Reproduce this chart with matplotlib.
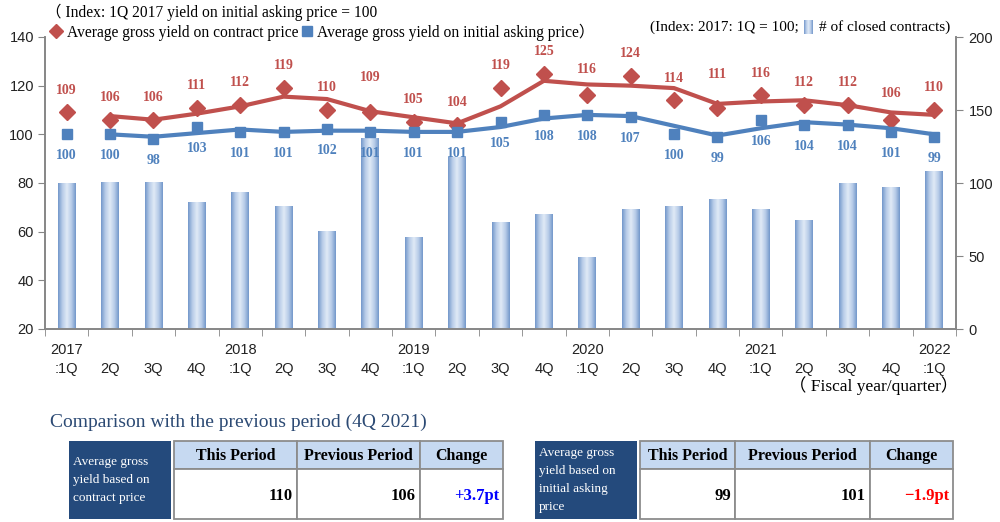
#!/usr/bin/env python3.12
"""Yield index (contract vs. initial asking price) with closed-contract bars."""

import matplotlib.pyplot as plt
import numpy as np
import pandas as pd
from matplotlib.colors import LinearSegmentedColormap
from matplotlib.lines import Line2D
from matplotlib.patches import Rectangle

YEARS = ["2017", "", "", "", "2018", "", "", "", "2019", "", "", "",
         "2020", "", "", "", "2021", "", "", "", "2022"]
QUARTERS = [":1Q", "2Q", "3Q", "4Q"] * 5 + [":1Q"]
CONTRACT = [109, 106, 106, 111, 112, 119, 110, 109, 105, 104, 119,
            125, 116, 124, 114, 111, 116, 112, 112, 106, 110]
ASKING = [100, 100, 98, 103, 101, 101, 102, 101, 101, 101, 105,
          108, 108, 107, 100, 99, 106, 104, 104, 101, 99]
CLOSED = [100, 101, 101, 87, 94, 84, 67, 131, 63, 118, 73,
          79, 49, 82, 84, 89, 82, 75, 100, 97, 108]
CHANGE = ["+3.7pt", "\u22121.9pt"]

W, H = 1000, 522
RED = "#c0504d"
BLUE = "#4f81bd"
SPINE = "#868686"
SERIF = ["Liberation Serif", "Noto Sans CJK JP"]
SANS = "Liberation Sans"

# extra upward nudge (px) for a few red labels that sit higher in the original
RED_NUDGE = {7: 13, 12: 4, 15: 11, 19: 4}


def fx(x):
    return x / W


def fy(y):
    return 1 - y / H


bar_cmap = LinearSegmentedColormap.from_list(
    "bar", ["#dfe9f6", "#b8cce8", "#7498cb"])
grad = np.abs(np.linspace(-1, 1, 64)).reshape(1, -1)

fig = plt.figure(figsize=(W / 100, H / 100), dpi=100)
ax = fig.add_axes([fx(45), fy(329), fx(956) - fx(45), fy(37) - fy(329)])
ax2 = ax.twinx()
ax.set_zorder(ax2.get_zorder() + 1)
ax.patch.set_visible(False)

x = np.arange(len(CONTRACT))

# bars with horizontal gradient
bars = ax2.bar(x, CLOSED, width=0.41, facecolor="none", edgecolor="none")
for rect in bars:
    x0 = rect.get_x()
    im = ax2.imshow(grad, extent=[x0, x0 + rect.get_width(), 0, rect.get_height()],
                    aspect="auto", cmap=bar_cmap, zorder=2)
    im.set_clip_path(rect)
ax2.set_ylim(0, 200)
ax2.set_yticks([0, 50, 100, 150, 200])

# moving-average trendlines + markers
c_ma = pd.Series(CONTRACT).rolling(2).mean()
a_ma = pd.Series(ASKING).rolling(2).mean()
ax.plot(x, c_ma, color=RED, lw=3, zorder=3)
ax.plot(x, a_ma, color=BLUE, lw=3, zorder=3)
ax.plot(x, CONTRACT, ls="none", marker="D", ms=8.5, color=RED, zorder=4)
ax.plot(x, ASKING, ls="none", marker="s", ms=7, color=BLUE, zorder=4)

for i, (c, a) in enumerate(zip(CONTRACT, ASKING)):
    ax.annotate(str(c), (i, c), xytext=(0, 16 + RED_NUDGE.get(i, 0) * 0.72),
                textcoords="offset points", ha="center", va="center",
                color=RED, fontsize=10, fontweight="bold", family=SERIF)
    ax.annotate(str(a), (i, a), xytext=(0, -15.5), textcoords="offset points",
                ha="center", va="center", color=BLUE, fontsize=10,
                fontweight="bold", family=SERIF)

ax.set_xlim(-0.5, len(x) - 0.5)
ax.set_ylim(20, 140)
ax.set_yticks(range(20, 141, 20))
ax.set_xticks(x, [f"{y}\n{q}" for y, q in zip(YEARS, QUARTERS)])
ax.set_xticks(np.arange(-0.5, len(x), 1), minor=True)
ax.tick_params(axis="x", which="major", length=0, pad=10)
ax.tick_params(axis="x", which="minor", length=5, color=SPINE)
ax.tick_params(axis="y", length=5, color=SPINE, pad=3)
ax2.tick_params(axis="y", length=5, color=SPINE, pad=4)
for a_ in (ax, ax2):
    for lab in a_.get_xticklabels() + a_.get_yticklabels():
        lab.set_fontfamily(SANS)
        lab.set_fontsize(10.5)
        lab.set_color("#222222")
        lab.set_linespacing(1.45)
    for name, sp in a_.spines.items():
        sp.set_color(SPINE)
        sp.set_linewidth(1.2)
        sp.set_visible(name != "top")

# headings and legend
fig.text(fx(46), fy(12), "\uff08 Index: 1Q 2017 yield on initial asking price = 100",
         family=SERIF, fontsize=11.2, va="center", ha="left")
handles = [
    Line2D([], [], ls="none", marker="D", ms=7, color=RED,
           label="Average gross yield on contract price"),
    Line2D([], [], ls="none", marker="s", ms=6.5, color=BLUE,
           label="Average gross yield on initial asking price\uff09"),
]
fig.legend(handles=handles, loc="center left", bbox_to_anchor=(fx(51), fy(32)),
           ncol=2, frameon=False, handlelength=0.7, handletextpad=0.3,
           columnspacing=0.2, borderpad=0, borderaxespad=0,
           prop={"family": SERIF, "size": 11.2})

fig.text(fx(799), fy(27), "(Index: 2017: 1Q = 100;", family=SERIF, fontsize=11,
         va="center", ha="right")
fig.text(fx(819), fy(27), "# of closed contracts)", family=SERIF, fontsize=11,
         va="center", ha="left")
icon = fig.add_axes([fx(804), fy(34), fx(813) - fx(804), fy(20) - fy(34)])
icon.imshow(grad, aspect="auto", cmap=bar_cmap)
icon.axis("off")

fig.text(fx(958), fy(386), "\uff08 Fiscal year/quarter\uff09", family=SERIF,
         fontsize=12.5, va="center", ha="right")

# comparison tables
fig.text(fx(50), fy(422), "Comparison with the previous period (4Q 2021)",
         family=SERIF, fontsize=14, color="#2c4a74", va="center", ha="left")


def cell(x0, y0, x1, y1, fc, ec="#8c8c8c", lw=1.3):
    fig.patches.append(Rectangle((fx(x0), fy(y1)), fx(x1) - fx(x0), fy(y0) - fy(y1),
                                 transform=fig.transFigure, facecolor=fc,
                                 edgecolor=ec, lw=lw))


def table(dark_x, cols, label, this, prev, change, change_color):
    cell(dark_x[0], 441, dark_x[1], 519, "#244a7c", ec="none")
    n = len(label)
    top = 480 - (n - 1) * 9
    for k, line in enumerate(label):
        fig.text(fx(dark_x[0] + 4), fy(top + 18 * k), line, color="white",
                 family=SERIF, fontsize=9.5, va="center", ha="left")
    heads = ["This Period", "Previous Period", "Change"]
    vals = [(str(this), "black"), (str(prev), "black"), (change, change_color)]
    for j in range(3):
        cell(cols[j], 441, cols[j + 1], 469, "#c6d9f1")
        cell(cols[j], 469, cols[j + 1], 519, "white")
        fig.text(fx((cols[j] + cols[j + 1]) / 2), fy(456), heads[j], family=SERIF,
                 fontsize=11.5, fontweight="bold", va="center", ha="center")
        fig.text(fx(cols[j + 1] - 4), fy(496), vals[j][0], color=vals[j][1],
                 family=SERIF, fontsize=12, fontweight="bold", va="center", ha="right")


table((69, 171), (174, 297, 420, 503),
      ["Average gross", "yield based on", "contract price"],
      CONTRACT[-1], CONTRACT[-2], CHANGE[0], "#0000ff")
table((535, 637), (640, 735, 870, 953),
      ["Average gross", "yield based on", "initial asking", "price"],
      ASKING[-1], ASKING[-2], CHANGE[1], "#ff0000")

fig.savefig("out.png", dpi=100, facecolor="white")
